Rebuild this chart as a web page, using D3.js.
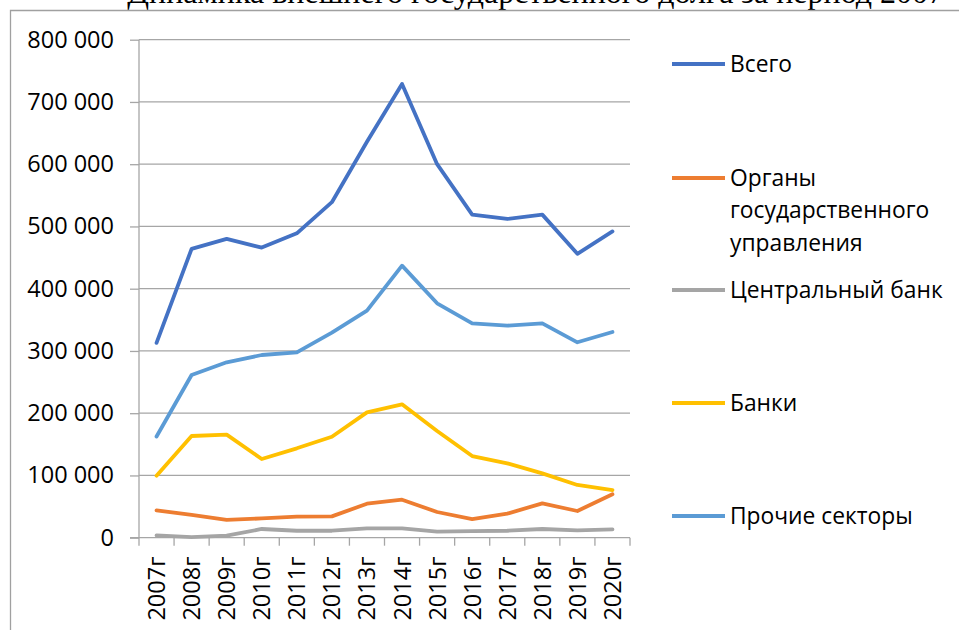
<!DOCTYPE html>
<html>
<head>
<meta charset="utf-8">
<script src="https://cdn.jsdelivr.net/npm/d3@7"></script>
<style>
  body { margin: 0; background: #fff; }
  svg { display: block; }
  .axis text { font-family: "Open Sans", sans-serif; fill: #000; }
  .legend text { font-family: "Open Sans", sans-serif; fill: #000; }
</style>
</head>
<body>
<div id="chart"></div>
<script>
// Chart data
var years = ['2007г', '2008г', '2009г', '2010г', '2011г', '2012г', '2013г',
             '2014г', '2015г', '2016г', '2017г', '2018г', '2019г', '2020г'];
var vsego = [313000, 464000, 480000, 466000, 489000, 539000, 636000,
             729000, 600000, 519000, 512000, 519000, 456000, 492000];
var organy = [44000, 36500, 28500, 31000, 33700, 34300, 54600,
              61000, 41300, 30000, 38600, 55200, 42900, 69700];
var centrBank = [3800, 1000, 3200, 14000, 11200, 11200, 15100,
                 15100, 9600, 10700, 11200, 14000, 11800, 13400];
var banki = [99600, 163400, 165500, 126400, 143600, 162200, 201400,
             214300, 171400, 131200, 119500, 103400, 84700, 76600];
var prochie = [162500, 261400, 281800, 293500, 297800, 329300, 364700,
               437000, 376500, 344400, 340600, 344400, 313900, 330400];
var yTicks = [0, 100000, 200000, 300000, 400000, 500000, 600000, 700000, 800000];

var series = [
    {name: ['Всего'], values: vsego, color: '#4472C4', ly: 64},
    {name: ['Органы', 'государственного', 'управления'], values: organy, color: '#ED7D31', ly: 178},
    {name: ['Центральный банк'], values: centrBank, color: '#A5A5A5', ly: 290},
    {name: ['Банки'], values: banki, color: '#FFC000', ly: 403},
    {name: ['Прочие секторы'], values: prochie, color: '#5B9BD5', ly: 516}
];

var width = 959, height = 630;
var plot = {left: 139, right: 630, top: 39.7, bottom: 537.7};

var svg = d3.select('#chart').append('svg')
    .attr('width', width)
    .attr('height', height);

// Caption of the document page above the chart, cut by the top edge
svg.append('text')
    .attr('x', 944)
    .attr('y', 3)
    .attr('text-anchor', 'end')
    .style('font-family', '"Liberation Serif", serif')
    .style('font-size', '32px')
    .text('Динамика внешнего государственного долга за период 2007');

// Frame of the chart object
svg.append('path')
    .attr('d', 'M10.5,' + height + 'V10.5H' + width)
    .attr('fill', 'none')
    .attr('stroke', '#A0A0A0')
    .attr('stroke-width', 1.3);

var locale = d3.formatLocale({decimal: ',', thousands: ' ', grouping: [3], currency: ['', '']});
var fmt = locale.format(',');

var x = d3.scaleBand().domain(years).range([plot.left, plot.right]);
var y = d3.scaleLinear().domain([0, 800000]).range([plot.bottom, plot.top]);

// Gridlines
svg.append('g')
    .selectAll('line')
    .data(yTicks.slice(1))
    .join('line')
    .attr('x1', plot.left)
    .attr('x2', plot.right)
    .attr('y1', function(d) { return y(d); })
    .attr('y2', function(d) { return y(d); })
    .attr('stroke', '#A6A6A6')
    .attr('stroke-width', 1.3);

// Y axis
var yAxis = svg.append('g')
    .attr('class', 'axis y')
    .attr('transform', 'translate(' + plot.left + ',0)')
    .call(d3.axisLeft(y).tickValues(yTicks).tickFormat(fmt).tickSize(9).tickPadding(16));
yAxis.selectAll('path, line').attr('stroke', '#A6A6A6').attr('stroke-width', 1.3);
yAxis.select('.domain').attr('d', 'M0,' + plot.top + 'V' + plot.bottom);
yAxis.selectAll('text').style('font-size', '23.5px');

// X axis
var xAxis = svg.append('g')
    .attr('class', 'axis x')
    .attr('transform', 'translate(0,' + plot.bottom + ')')
    .call(d3.axisBottom(x).tickSize(0).tickFormat(''));
xAxis.select('.domain').attr('stroke', '#A6A6A6').attr('stroke-width', 1.3)
    .attr('d', 'M' + (plot.left - 9) + ',0H' + plot.right);
xAxis.selectAll('.sep')
    .data(years.concat(['end']))
    .join('line')
    .attr('class', 'sep')
    .attr('x1', function(d, i) { return plot.left + i * x.bandwidth(); })
    .attr('x2', function(d, i) { return plot.left + i * x.bandwidth(); })
    .attr('y1', 0)
    .attr('y2', 8)
    .attr('stroke', '#A6A6A6')
    .attr('stroke-width', 1.3);
xAxis.selectAll('.lbl')
    .data(years)
    .join('text')
    .attr('class', 'lbl')
    .attr('transform', function(d) {
        return 'translate(' + (x(d) + x.bandwidth() / 2) + ',19) rotate(-90)';
    })
    .attr('dy', '0.36em')
    .attr('text-anchor', 'end')
    .style('font-size', '23.5px')
    .text(function(d) { return d; });

// Series lines
var line = d3.line()
    .x(function(d, i) { return x(years[i]) + x.bandwidth() / 2; })
    .y(function(d) { return y(d); });

svg.append('g')
    .selectAll('path')
    .data(series)
    .join('path')
    .attr('d', function(s) { return line(s.values); })
    .attr('fill', 'none')
    .attr('stroke', function(s) { return s.color; })
    .attr('stroke-width', 3.8)
    .attr('stroke-linejoin', 'round')
    .attr('stroke-linecap', 'round');

// Legend
var legend = svg.append('g').attr('class', 'legend');
var item = legend.selectAll('g')
    .data(series)
    .join('g')
    .attr('transform', function(s) { return 'translate(672,' + s.ly + ')'; });
item.append('line')
    .attr('x1', 0)
    .attr('x2', 53)
    .attr('stroke', function(s) { return s.color; })
    .attr('stroke-width', 3.8);
item.append('text')
    .attr('x', 58)
    .style('font-size', '22.8px')
    .selectAll('tspan')
    .data(function(s) { return s.name; })
    .join('tspan')
    .attr('x', 58)
    .attr('y', function(d, i) { return i * 32.5; })
    .attr('dy', '0.35em')
    .text(function(d) { return d; });
</script>
</body>
</html>
